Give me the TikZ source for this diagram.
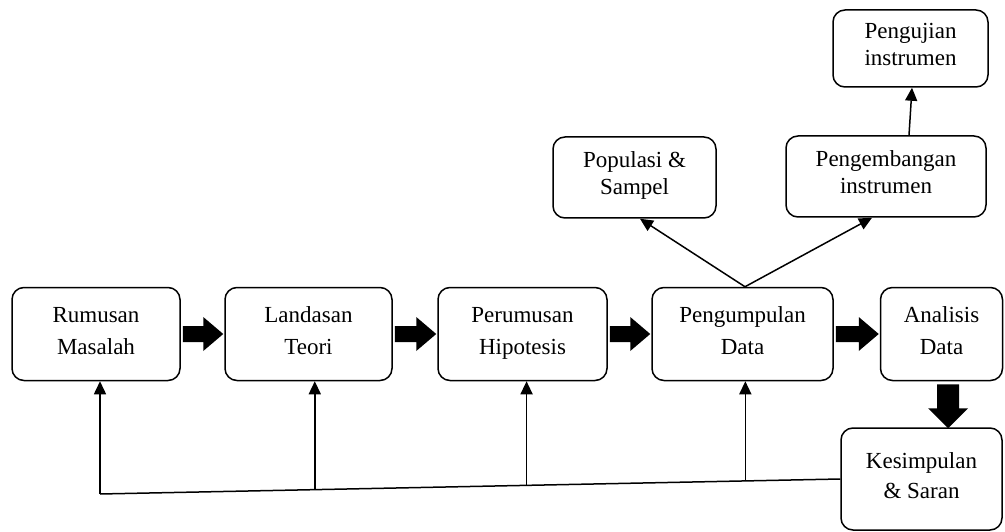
\documentclass[tikz,border=0pt]{standalone}
\usepackage{fontspec}
\setmainfont{Liberation Serif}
\usetikzlibrary{calc,arrows.meta}
\tikzset{
  struts/.style 2 args={execute at begin node={\rule{0pt}{#1}}, execute at end node={\rule[-#2]{0pt}{#2}}},
  box/.style={draw, line width=1.5pt, rounded corners=12pt, align=center, inner sep=0pt,
    font=\fontsize{23}{32}\selectfont, struts={20pt}{6pt}},
  topbox/.style={box, font=\fontsize{23}{27}\selectfont, struts={17pt}{8pt}},
  thin/.style={line width=1.5pt, -{Triangle[length=13pt,width=12pt]}},
  feed/.style={line width=1.5pt},
  blk/.style={fill=black}
}
\newcommand\hblock[2]{\fill[blk] ($(#1.east)+(2,-8)$) -- ($(#2.west)+(-21,-8)$) -- ($(#2.west)+(-21,-17)$) -- ($(#2.west)+(-1,0)$) -- ($(#2.west)+(-21,17)$) -- ($(#2.west)+(-21,8)$) -- ($(#1.east)+(2,8)$) -- cycle;}
\begin{document}
\begin{tikzpicture}[x=1pt,y=-1pt]
\useasboundingbox (0,0) rectangle (1005,532);
% main row
\node[box, minimum width=168pt, minimum height=93pt] (rm) at (96,334) {Rumusan\\Masalah};
\node[box, minimum width=167pt, minimum height=93pt] (lt) at (308.5,334) {Landasan\\Teori};
\node[box, minimum width=169pt, minimum height=93pt] (ph) at (522.5,334) {Perumusan\\Hipotesis};
\node[box, minimum width=181pt, minimum height=93pt] (pd) at (742.5,334) {Pengumpulan\\Data};
\node[box, minimum width=122pt, minimum height=93pt] (ad) at (941.5,334) {Analisis\\Data};
\node[box, minimum width=161pt, minimum height=102pt, font=\fontsize{23}{30}\selectfont, struts={24pt}{4pt}] (ks) at (921.5,479) {Kesimpulan\\\&~Saran};
% top
\node[topbox, minimum width=163pt, minimum height=81pt] (ps) at (634.5,177.5) {Populasi \&\\Sampel};
\node[topbox, minimum width=200pt, minimum height=81pt] (pgi) at (886,176.5) {Pengembangan\\instrumen};
\node[topbox, minimum width=155pt, minimum height=77pt] (pji) at (910.5,48.5) {Pengujian\\instrumen};
% block arrows
\hblock{rm}{lt}
\hblock{lt}{ph}
\hblock{ph}{pd}
\hblock{pd}{ad}
\coordinate (vt) at ($(ks.north -| ad.south)+(6.5,1)$);
\coordinate (vs) at ($(ad.south)+(6.5,3)$);
\fill[blk] ($(vs)+(-11,0)$) -- ($(vt)+(-11,-20)$) -- ($(vt)+(-20,-20)$) -- (vt) -- ($(vt)+(20,-20)$) -- ($(vt)+(11,-20)$) -- ($(vs)+(11,0)$) -- cycle;
% top arrows
\draw[thin] ($(pd.north)+(2.5,0)$) -- ($(ps.south)+(5.5,0)$);
\draw[thin] ($(pd.north)+(2.5,0)$) -- ($(pgi.south)+(-14,0)$);
\draw[thin] ($(pgi.north)+(23,0)$) -- ($(pji.south)+(1.5,0)$);
% feedback
\coordinate (fl) at (100,494);
\draw[feed] (ks.west) -- (fl);
\coordinate (f2) at ($(fl)!{215/741}!(ks.west)$);
\coordinate (f3) at ($(fl)!{427/741}!(ks.west)$);
\coordinate (f4) at ($(fl)!{646/741}!(ks.west)$);
\draw[thin] (fl) -- (fl |- rm.south);
\draw[thin] (f2) -- (f2 |- lt.south);
\draw[thin] (f3) -- (f3 |- ph.south);
\draw[thin] (f4) -- (f4 |- pd.south);
\end{tikzpicture}
\end{document}
